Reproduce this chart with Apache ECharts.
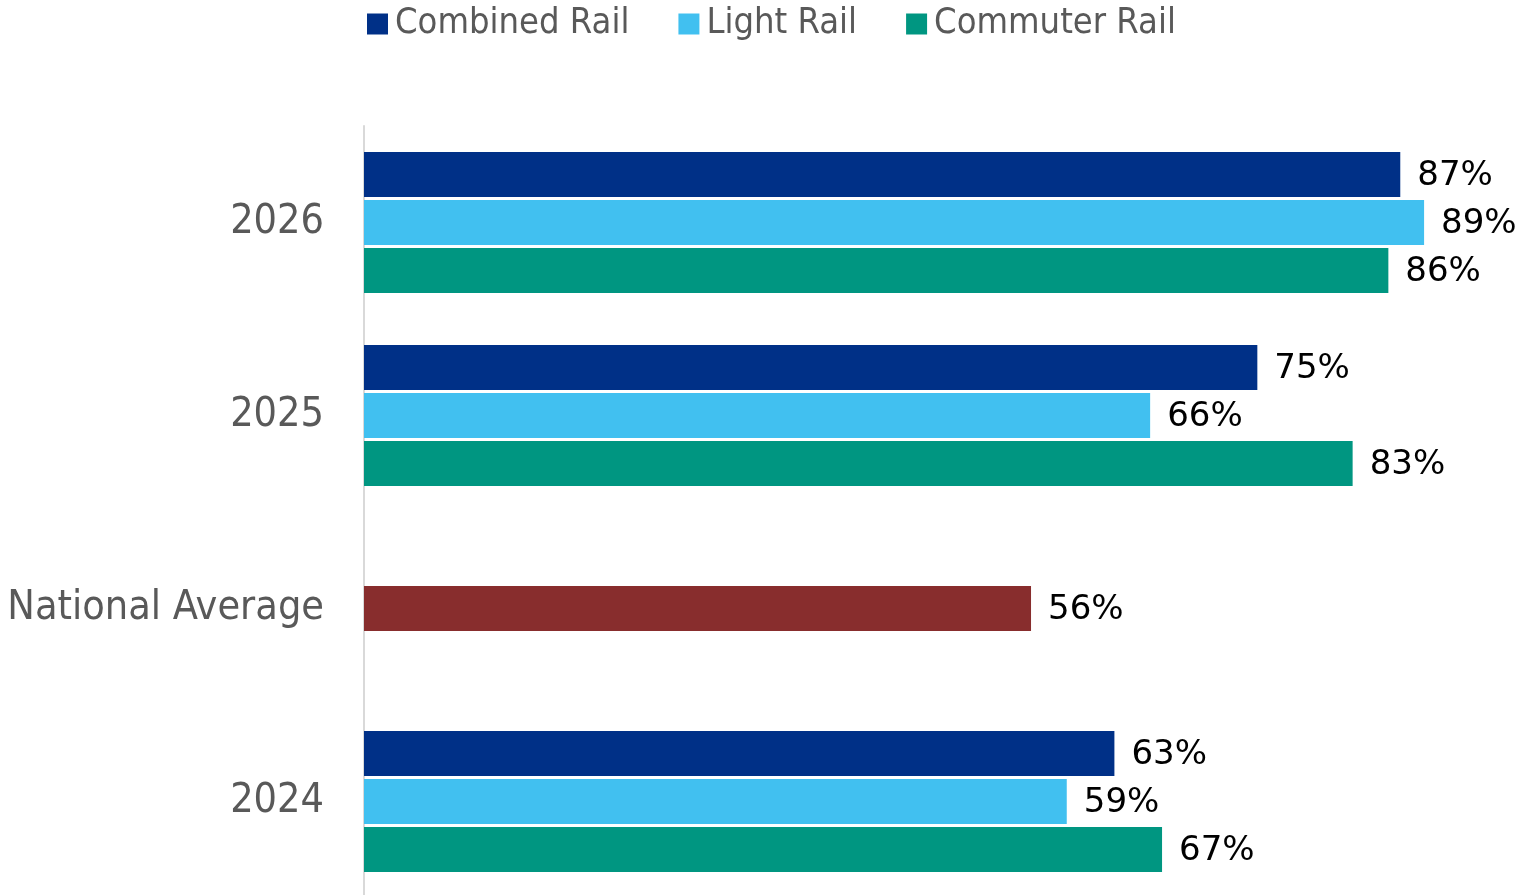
<!DOCTYPE html>
<html>
<head>
<meta charset="utf-8">
<script src="https://cdn.jsdelivr.net/npm/echarts@6/dist/echarts.min.js"></script>
<style>
  html, body { margin: 0; padding: 0; background: #fff; }
  #chart { width: 1517px; height: 895px; }
</style>
</head>
<body>
<div id="chart"></div>
<script>
// categories, top to bottom
var categories = ['2026', '2025', 'National Average', '2024'];
var combinedRail = [87, 75, null, 63];
var lightRail = [89, 66, null, 59];
var commuterRail = [86, 83, null, 67];
var nationalAverage = [null, null, 56, null];

var myChart = echarts.init(document.getElementById('chart'));

var labelStyle = {
    show: true,
    position: 'right',
    distance: 17,
    offset: [0, 2],
    color: '#000',
    fontFamily: 'DejaVu Sans',
    fontSize: 34,
    formatter: '{c}%'
};

var option = {
    animation: false,
    legend: {
        data: ['Combined Rail', 'Light Rail', 'Commuter Rail'],
        left: 362,
        top: 1,
        itemWidth: 21,
        itemHeight: 21,
        itemGap: 49,
        icon: 'rect',
        textStyle: {
            color: '#595959',
            fontFamily: 'DejaVu Sans Condensed',
            fontSize: 36,
            padding: [0, 0, 0, 2]
        }
    },
    grid: {
        left: 364,
        top: 126,
        right: 0,
        bottom: -3,
        outerBoundsMode: 'none'
    },
    xAxis: {
        type: 'value',
        min: 0,
        max: 96.8,
        show: false
    },
    yAxis: {
        type: 'category',
        inverse: true,
        data: categories,
        axisLine: { lineStyle: { color: '#d9d9d9', width: 2 } },
        axisTick: { show: false },
        axisLabel: {
            color: '#595959',
            fontFamily: 'DejaVu Sans Condensed',
            fontSize: 41,
            margin: 40
        }
    },
    series: [
        {
            name: 'Combined Rail',
            type: 'bar',
            barWidth: 45,
            barGap: '6.7%',
            itemStyle: { color: '#003087' },
            label: labelStyle,
            data: combinedRail
        },
        {
            name: 'Light Rail',
            type: 'bar',
            stack: 'mid',
            barWidth: 45,
            itemStyle: { color: '#41C0F0' },
            label: labelStyle,
            data: lightRail
        },
        {
            name: 'Commuter Rail',
            type: 'bar',
            barWidth: 45,
            itemStyle: { color: '#009681' },
            label: labelStyle,
            data: commuterRail
        },
        {
            name: 'National Average',
            type: 'bar',
            stack: 'mid',
            barWidth: 45,
            itemStyle: { color: '#882D2D' },
            label: labelStyle,
            data: nationalAverage
        }
    ]
};

myChart.setOption(option);
</script>
</body>
</html>
